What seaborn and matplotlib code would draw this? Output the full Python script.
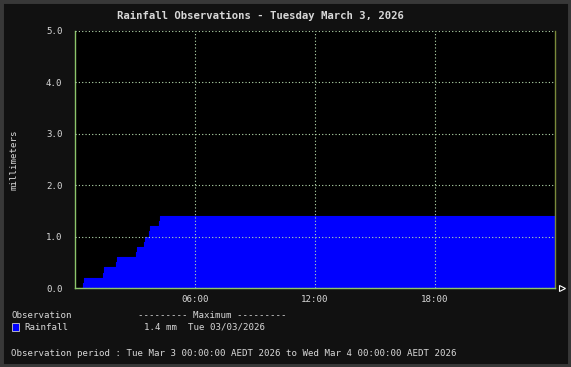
import matplotlib
matplotlib.use("Agg")
import matplotlib.pyplot as plt
import seaborn as sns
import pandas as pd
import numpy as np

# Data (hours since midnight, cumulative rainfall mm)
hours = [0.0, 0.40, 0.45, 1.40, 1.45, 2.05, 2.10, 3.05, 3.10, 3.45, 3.50, 3.70, 3.75, 4.20, 4.25, 24.0]
rain = [0.0, 0.1, 0.2, 0.3, 0.4, 0.5, 0.6, 0.7, 0.8, 0.9, 1.0, 1.1, 1.2, 1.3, 1.4, 1.4]
xticks = [6, 12, 18]
xticklabels = ["06:00", "12:00", "18:00"]
yticks = [0, 1, 2, 3, 4, 5]
yticklabels = ["0.0", "1.0", "2.0", "3.0", "4.0", "5.0"]

df = pd.DataFrame({"hour": hours, "rain": rain})

sns.set_style("dark")
plt.rcParams["font.family"] = ["DejaVu Sans Mono"]

BG = "#111111"
TXT = "#d8d8d8"
SPINE = "#8cc46a"
GRID = "#b8dcb0"
FS = 6.58

fig = plt.figure(figsize=(5.71, 3.67), dpi=100, facecolor=BG)
ax = fig.add_axes([75/571, 1 - 288/367, 480/571, 257/367])
ax.set_facecolor("black")

sns.lineplot(data=df, x="hour", y="rain", drawstyle="steps-post", color="#0000ff",
             linewidth=0.8, ax=ax)
ax.fill_between(df["hour"], 0, df["rain"], step="post", color="#0000ff", linewidth=0)

ax.set_xlim(0, 24)
ax.set_ylim(0, 5)
ax.set_xticks(xticks)
ax.set_xticklabels(xticklabels)
ax.set_yticks(yticks)
ax.set_yticklabels(yticklabels)
ax.set_xlabel("")
ax.set_ylabel("millimeters", color=TXT, fontsize=FS, labelpad=20)

ax.grid(True, color=GRID, linestyle=(0, (1, 2)), linewidth=0.8)
ax.set_axisbelow(False)
for s in ["left", "bottom"]:
    ax.spines[s].set_color(SPINE)
    ax.spines[s].set_linewidth(1)
ax.spines["top"].set_visible(False)
ax.spines["right"].set_color("#7a8a3a")
ax.spines["right"].set_linewidth(1)
ax.tick_params(axis="both", colors=TXT, labelsize=FS, length=4, width=1)
ax.tick_params(axis="y", color=SPINE, direction="inout", length=6, pad=6)
ax.tick_params(axis="x", color=SPINE, direction="in", length=0, pad=5)

# arrow marker at end of x axis
ax.plot([24.35], [0], marker=">", markersize=5, markerfacecolor=BG,
        markeredgecolor="white", markeredgewidth=0.8, clip_on=False, linestyle="none")

fig.text(117/571, 1 - 16/367, "Rainfall Observations - Tuesday March 3, 2026", ha="left",
         va="center", color=TXT, fontsize=7.7, fontweight="bold")

fig.text(11/571, 1 - 315/367, "Observation", color=TXT, fontsize=FS, va="center")
fig.text(138/571, 1 - 315/367, "--------- Maximum ---------", color=TXT, fontsize=FS, va="center")
fig.patches.append(plt.Rectangle((12/571, 1 - 331/367), 7/571, 8/367, transform=fig.transFigure,
                                 facecolor="#0000ff", edgecolor="#cccccc", linewidth=0.6))
fig.text(24/571, 1 - 327/367, "Rainfall", color=TXT, fontsize=FS, va="center")
fig.text(144/571, 1 - 327/367, "1.4 mm  Tue 03/03/2026", color=TXT, fontsize=FS, va="center")
fig.text(11/571, 1 - 353/367,
         "Observation period : Tue Mar 3 00:00:00 AEDT 2026 to Wed Mar 4 00:00:00 AEDT 2026",
         color=TXT, fontsize=FS, va="center")

fig.patches.append(plt.Rectangle((0, 0), 1, 1, transform=fig.transFigure, fill=False,
                                 edgecolor="#383838", linewidth=5))

fig.savefig("out.png", dpi=100, facecolor=BG)
